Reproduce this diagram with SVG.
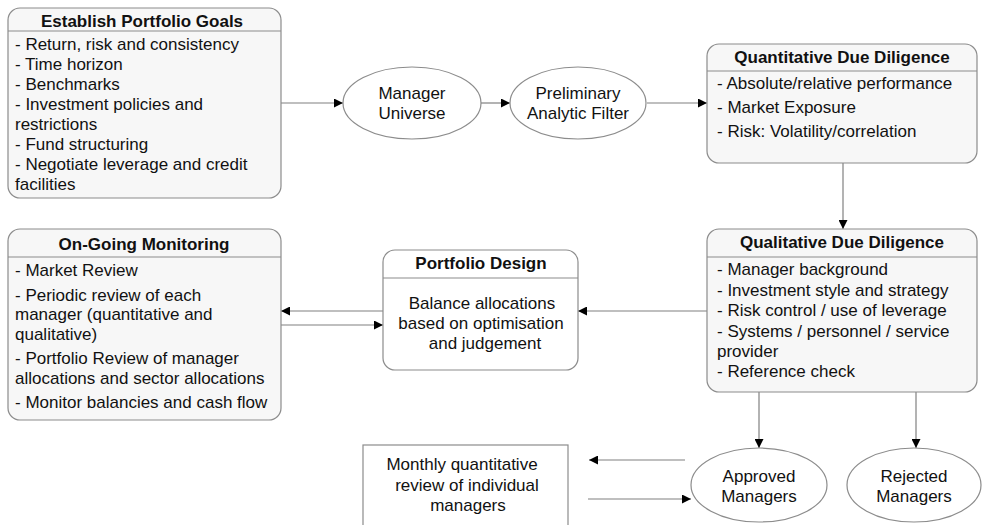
<svg xmlns="http://www.w3.org/2000/svg" width="983" height="525" viewBox="0 0 983 525">
<style>
text{font-family:"Liberation Sans",Arial,sans-serif;font-size:17px;fill:#111}
.t{font-weight:bold;text-anchor:middle}
.c{text-anchor:middle}
.box{fill:#f7f7f7;stroke:#8c8c8c;stroke-width:1.2}
.wbox{fill:#fff;stroke:#8c8c8c;stroke-width:1.2}
.sep{stroke:#8c8c8c;stroke-width:1.2}
.ell{fill:#fff;stroke:#8c8c8c;stroke-width:1.2}
.ln{stroke:#808080;stroke-width:1.2;fill:none;marker-end:url(#ah)}
</style>
<defs>
<marker id="ah" markerWidth="10" markerHeight="9" refX="9" refY="4.5" orient="auto" markerUnits="userSpaceOnUse">
<path d="M0,0 L9,4.5 L0,9 Z" fill="#000"/>
</marker>
</defs>
<rect width="983" height="525" fill="#fff"/>
<g id="connectors">
<line class="ln" x1="281" y1="103" x2="343" y2="103"/>
<line class="ln" x1="481" y1="103" x2="510" y2="103"/>
<line class="ln" x1="647" y1="103" x2="707" y2="103"/>
<line class="ln" x1="843" y1="163" x2="843" y2="229"/>
<line class="ln" x1="707" y1="311" x2="578" y2="311"/>
<line class="ln" x1="383" y1="311" x2="281" y2="311"/>
<line class="ln" x1="281" y1="325" x2="383" y2="325"/>
<line class="ln" x1="759" y1="392" x2="759" y2="448"/>
<line class="ln" x1="916" y1="392" x2="916" y2="448"/>
<line class="ln" x1="685" y1="460" x2="589" y2="460"/>
<line class="ln" x1="588" y1="499" x2="691" y2="499"/>
</g>
<g id="goals">
<rect class="box" x="8" y="8" width="273" height="190" rx="12"/>
<line class="sep" x1="8" y1="31" x2="281" y2="31"/>
<text class="t" x="142" y="27">Establish Portfolio Goals</text>
<text x="15" y="50">- Return, risk and consistency</text>
<text x="15" y="70">- Time horizon</text>
<text x="15" y="90">- Benchmarks</text>
<text x="15" y="110">- Investment policies and</text>
<text x="15" y="130">restrictions</text>
<text x="15" y="150">- Fund structuring</text>
<text x="15" y="170">- Negotiate leverage and credit</text>
<text x="15" y="190">facilities</text>
</g>
<g id="universe">
<ellipse class="ell" cx="412" cy="103" rx="69" ry="36"/>
<text class="c" x="412" y="99">Manager</text>
<text class="c" x="412" y="119">Universe</text>
</g>
<g id="filter">
<ellipse class="ell" cx="578" cy="103" rx="68" ry="36"/>
<text class="c" x="578" y="99">Preliminary</text>
<text class="c" x="578" y="119">Analytic Filter</text>
</g>
<g id="quant">
<rect class="box" x="707" y="44" width="270" height="119" rx="12"/>
<line class="sep" x1="707" y1="71" x2="977" y2="71"/>
<text class="t" x="842" y="63">Quantitative Due Diligence</text>
<text x="717" y="89">- Absolute/relative performance</text>
<text x="717" y="113">- Market Exposure</text>
<text x="717" y="137">- Risk: Volatility/correlation</text>
</g>
<g id="qual">
<rect class="box" x="707" y="229" width="270" height="163" rx="12"/>
<line class="sep" x1="707" y1="257" x2="977" y2="257"/>
<text class="t" x="842" y="248">Qualitative Due Diligence</text>
<text x="717" y="275">- Manager background</text>
<text x="717" y="296">- Investment style and strategy</text>
<text x="717" y="316">- Risk control / use of leverage</text>
<text x="717" y="337">- Systems / personnel / service</text>
<text x="717" y="357">provider</text>
<text x="717" y="377">- Reference check</text>
</g>
<g id="design">
<rect class="wbox" x="383" y="250" width="195" height="120" rx="12"/>
<line class="sep" x1="383" y1="278" x2="578" y2="278"/>
<text class="t" x="481" y="269">Portfolio Design</text>
<text class="c" x="482" y="309">Balance allocations</text>
<text class="c" x="481" y="329">based on optimisation</text>
<text class="c" x="485" y="349">and judgement</text>
</g>
<g id="monitoring">
<rect class="box" x="8" y="229" width="273" height="191" rx="12"/>
<line class="sep" x1="8" y1="257" x2="281" y2="257"/>
<text class="t" x="144" y="250">On-Going Monitoring</text>
<text x="15" y="276">- Market Review</text>
<text x="15" y="301">- Periodic review of each</text>
<text x="15" y="320">manager (quantitative and</text>
<text x="15" y="340">qualitative)</text>
<text x="15" y="364">- Portfolio Review of manager</text>
<text x="15" y="384">allocations and sector allocations</text>
<text x="15" y="408">- Monitor balancies and cash flow</text>
</g>
<g id="monthly">
<rect class="wbox" x="363" y="445" width="205" height="100"/>
<text class="c" x="462" y="470">Monthly quantitative</text>
<text class="c" x="467" y="491">review of individual</text>
<text class="c" x="468" y="511">managers</text>
</g>
<g id="approved">
<ellipse class="ell" cx="759" cy="485" rx="68" ry="37"/>
<text class="c" x="759" y="482">Approved</text>
<text class="c" x="759" y="502">Managers</text>
</g>
<g id="rejected">
<ellipse class="ell" cx="914" cy="485" rx="67" ry="37"/>
<text class="c" x="914" y="482">Rejected</text>
<text class="c" x="914" y="502">Managers</text>
</g>
</svg>
